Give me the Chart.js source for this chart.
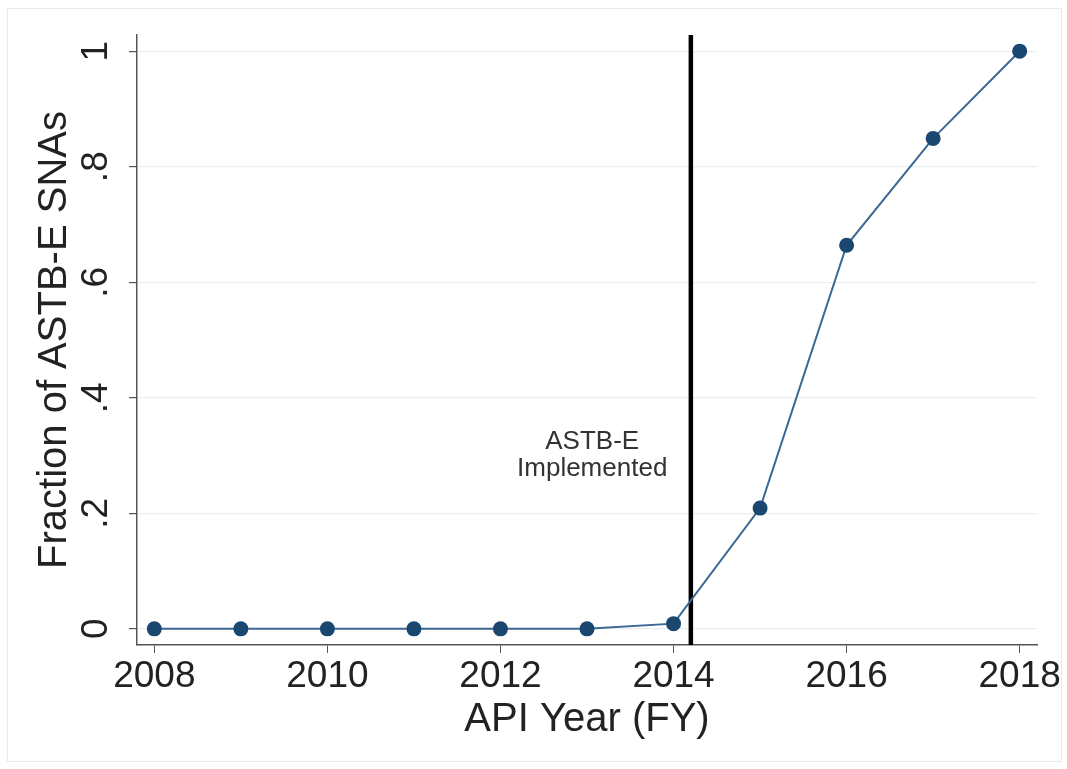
<!DOCTYPE html>
<html>
<head>
<meta charset="utf-8">
<script src="https://cdn.jsdelivr.net/npm/chart.js@4.4.1/dist/chart.umd.min.js"></script>
<style>
    html, body { margin: 0; padding: 0; background: #fff; }
    #wrap { width: 1067px; height: 769px; position: relative; }
</style>
</head>
<body>
<div id="wrap"><canvas id="fracChart" width="1067" height="769"></canvas></div>
<script>
// data
const years = [2008, 2009, 2010, 2011, 2012, 2013, 2014, 2015, 2016, 2017, 2018];
const fraction = [0, 0, 0, 0, 0, 0, 0.009, 0.209, 0.664, 0.849, 1];
const xTicks = [2008, 2010, 2012, 2014, 2016, 2018];
const yTicks = [0, 0.2, 0.4, 0.6, 0.8, 1];
const yTickLabels = ['0', '.2', '.4', '.6', '.8', '1'];
const implYear = 2014.2;
const noteLines = ['ASTB-E', 'Implemented'];

const FONT = '"Liberation Sans", Arial, Helvetica, sans-serif';
const navy = '#1a476f';
const yMin = -0.028, yMax = 1.028;

// frame + rotated y tick labels + note text
const stataBits = {
    id: 'stataBits',
    beforeDraw(chart) {
        const ctx = chart.ctx;
        ctx.save();
        ctx.fillStyle = '#ffffff';
        ctx.fillRect(0, 0, chart.width, chart.height);
        ctx.strokeStyle = '#e6e9ea';
        ctx.lineWidth = 1;
        ctx.strokeRect(7.5, 8.5, 1054, 753);
        ctx.restore();
    },
    afterDraw(chart) {
        const ctx = chart.ctx;
        const xs = chart.scales.x, ys = chart.scales.y;
        ctx.save();
        ctx.fillStyle = '#222';
        ctx.font = '37px ' + FONT;
        ctx.textAlign = 'center';
        ctx.textBaseline = 'middle';
        yTicks.forEach((v, i) => {
            const py = ys.getPixelForValue(v);
            ctx.save();
            ctx.translate(97, py);
            ctx.rotate(-Math.PI / 2);
            ctx.fillText(yTickLabels[i], 0, 0);
            ctx.restore();
        });
        // annotation next to the vertical line
        ctx.fillStyle = '#333';
        ctx.font = '26px ' + FONT;
        const nx = xs.getPixelForValue(2013.06);
        ctx.fillText(noteLines[0], nx, ys.getPixelForValue(0.3235));
        ctx.fillText(noteLines[1], nx, ys.getPixelForValue(0.277));
        ctx.restore();
    }
};

new Chart(document.getElementById('fracChart'), {
    type: 'line',
    data: {
        datasets: [{
            label: 'Fraction',
            data: years.map((y, i) => ({ x: y, y: fraction[i] })),
            borderColor: '#3b6894',
            borderWidth: 2,
            pointRadius: 7.5,
            pointBackgroundColor: navy,
            pointBorderColor: navy,
            pointBorderWidth: 0,
            tension: 0
        }, {
            label: 'Implemented',
            data: [{ x: implYear, y: yMin }, { x: implYear, y: yMax }],
            borderColor: '#000',
            borderWidth: 4.5,
            pointRadius: 0
        }]
    },
    options: {
        responsive: false,
        animation: false,
        devicePixelRatio: 1,
        layout: { padding: { top: 35, right: 30, left: 0, bottom: 0 } },
        plugins: {
            legend: { display: false },
            tooltip: { enabled: false }
        },
        scales: {
            x: {
                type: 'linear',
                min: 2007.8,
                max: 2018.2,
                afterBuildTicks: (scale) => { scale.ticks = xTicks.map(v => ({ value: v })); },
                afterFit: (scale) => { scale.height = 769 - 645; },
                border: { display: true, color: '#555', width: 1.5 },
                grid: { drawOnChartArea: false, drawTicks: true, tickLength: 8, tickColor: '#555' },
                ticks: {
                    color: '#222',
                    font: { family: FONT, size: 37 },
                    padding: 2,
                    maxRotation: 0,
                    callback: (v) => String(v)
                },
                title: {
                    display: true,
                    text: 'API Year (FY)',
                    color: '#222',
                    font: { family: FONT, size: 40 },
                    padding: { top: 0, bottom: 25 }
                }
            },
            y: {
                min: yMin,
                max: yMax,
                afterBuildTicks: (scale) => { scale.ticks = yTicks.map(v => ({ value: v })); },
                afterFit: (scale) => { scale.width = 137; },
                border: { display: true, color: '#555', width: 1.5 },
                grid: { color: '#e8eff1', lineWidth: 1.2, drawTicks: true, tickLength: 8, tickColor: '#555' },
                ticks: { color: 'rgba(0,0,0,0)', font: { family: FONT, size: 37 } },
                title: {
                    display: true,
                    text: 'Fraction of ASTB-E SNAs',
                    color: '#222',
                    font: { family: FONT, size: 40 },
                    padding: { top: 31, bottom: 0 }
                }
            }
        }
    },
    plugins: [stataBits]
});
</script>
</body>
</html>
